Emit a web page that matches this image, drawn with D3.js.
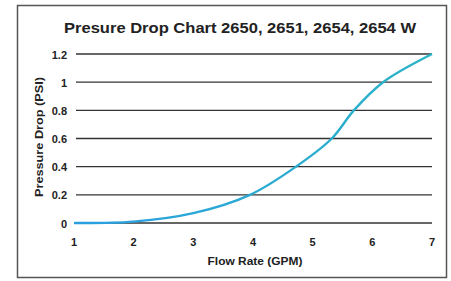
<!DOCTYPE html>
<html>
<head>
<meta charset="utf-8">
<script src="https://cdn.jsdelivr.net/npm/d3@7"></script>
<style>
body { margin: 0; background: #fff; }
text { font-family: "Liberation Sans", Arial, sans-serif; font-weight: bold; fill: #222; }
</style>
</head>
<body>
<svg id="chart" width="451" height="281"></svg>
<script>
var flowRate = [1, 2, 3, 3.95, 4.72, 5.32, 5.69, 6.18, 7];
var pressureDrop = [0, 0.01, 0.07, 0.2, 0.4, 0.6, 0.8, 1.0, 1.2];
var xTicks = [1, 2, 3, 4, 5, 6, 7];
var yTicks = [0, 0.2, 0.4, 0.6, 0.8, 1, 1.2];

var svg = d3.select("#chart");

// frame
svg.append("rect")
	.attr("x", 17.5).attr("y", 5.5)
	.attr("width", 429).attr("height", 272)
	.attr("fill", "none").attr("stroke", "#555").attr("stroke-width", 1.5);

var x = d3.scaleLinear().domain([1, 7]).range([74, 432]);
var y = d3.scaleLinear().domain([0, 1.2]).range([223, 54]);

svg.append("text")
	.attr("x", 240).attr("y", 33)
	.attr("text-anchor", "middle")
	.attr("font-size", 15.5)
	.attr("textLength", 352)
	.attr("lengthAdjust", "spacingAndGlyphs")
	.text("Presure Drop Chart 2650, 2651, 2654, 2654 W");

// grid lines
svg.selectAll(".grid")
	.data(yTicks)
	.enter()
	.append("line")
	.attr("x1", 76).attr("x2", 432)
	.attr("y1", function(d) { return y(d); })
	.attr("y2", function(d) { return y(d); })
	.attr("stroke", "#333").attr("stroke-width", 1.4);

svg.selectAll(".ylab")
	.data(yTicks)
	.enter()
	.append("text")
	.attr("x", 67)
	.attr("y", function(d) { return y(d) + 4.5; })
	.attr("text-anchor", "end")
	.attr("font-size", 11)
	.text(function(d) { return d; });

svg.selectAll(".xlab")
	.data(xTicks)
	.enter()
	.append("text")
	.attr("x", function(d) { return x(d); })
	.attr("y", 246)
	.attr("text-anchor", "middle")
	.attr("font-size", 11)
	.text(function(d) { return d; });

svg.append("text")
	.attr("x", 255).attr("y", 265)
	.attr("text-anchor", "middle")
	.attr("font-size", 11)
	.attr("textLength", 95)
	.attr("lengthAdjust", "spacingAndGlyphs")
	.text("Flow Rate (GPM)");

svg.append("text")
	.attr("transform", "translate(43,137) rotate(-90)")
	.attr("text-anchor", "middle")
	.attr("font-size", 11.5)
	.attr("textLength", 120)
	.attr("lengthAdjust", "spacingAndGlyphs")
	.text("Pressure Drop (PSI)");

var grad = svg.append("defs").append("linearGradient")
	.attr("id", "lineGrad")
	.attr("gradientUnits", "userSpaceOnUse")
	.attr("x1", 74).attr("x2", 432).attr("y1", 0).attr("y2", 0);
grad.append("stop").attr("offset", "0%").attr("stop-color", "#2a9fe0");
grad.append("stop").attr("offset", "100%").attr("stop-color", "#2bb3c6");

var line = d3.line()
	.x(function(d, i) { return x(flowRate[i]); })
	.y(function(d) { return y(d); })
	.curve(d3.curveCatmullRom.alpha(0.5));

svg.append("path")
	.attr("d", line(pressureDrop))
	.attr("fill", "none")
	.attr("stroke", "url(#lineGrad)")
	.attr("stroke-width", 2.4);
</script>
</body>
</html>
